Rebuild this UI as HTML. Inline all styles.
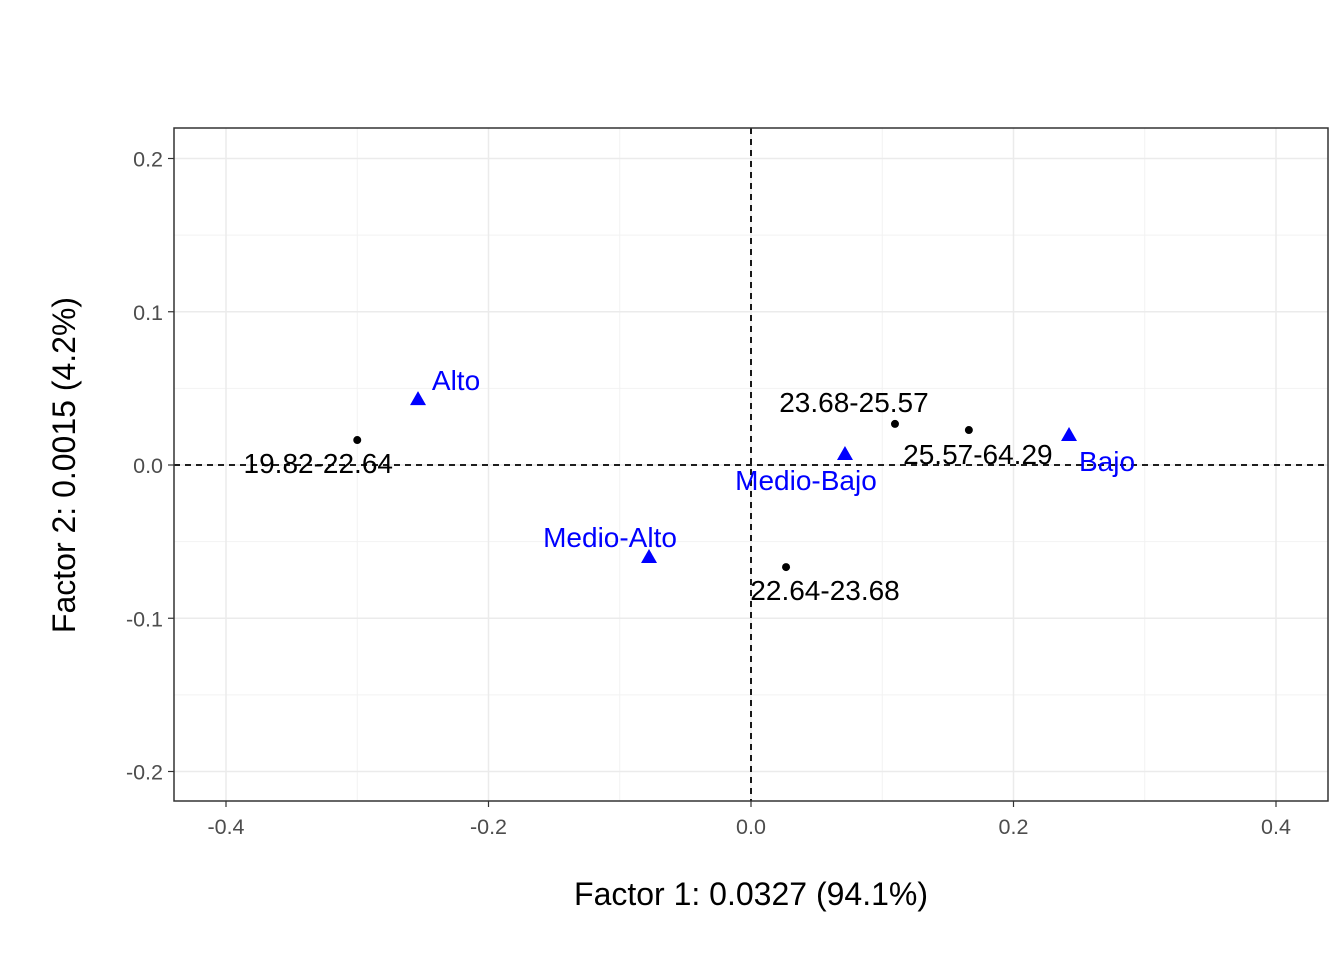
<!DOCTYPE html>
<html><head><meta charset="utf-8"><style>
html,body{margin:0;padding:0;background:#fff;}
svg{display:block;font-family:"Liberation Sans",Arial,sans-serif;}
</style></head><body>
<svg id="chart" width="1344" height="960"></svg>
<script>
const rowLabels=["19.82-22.64","23.68-25.57","25.57-64.29","22.64-23.68"];
const rowX=[-0.300,0.1097,0.166,0.0267];
const rowY=[0.0163,0.0268,0.0228,-0.0666];
const colLabels=["Alto","Medio-Bajo","Bajo","Medio-Alto"];
const colX=[-0.2537,0.0716,0.2423,-0.0777];
const colY=[0.043,0.0072,0.0196,-0.060];
const xTicks=[-0.4,-0.2,0.0,0.2,0.4];
const yTicks=[-0.2,-0.1,0.0,0.1,0.2];
const xTickLabels=["-0.4","-0.2","0.0","0.2","0.4"];
const yTickLabels=["-0.2","-0.1","0.0","0.1","0.2"];

const NS="http://www.w3.org/2000/svg";
const svg=document.getElementById('chart');
const L=174,R=1328,T=128,B=801;
const sx=v=>751+v*1312.5;
const sy=v=>465-v*1532.5;
function el(tag,attrs,parent){const e=document.createElementNS(NS,tag);for(const k in attrs)e.setAttribute(k,attrs[k]);(parent||svg).appendChild(e);return e;}

const panel=el('rect',{x:L,y:T,width:R-L,height:B-T,fill:'#fff'});


[-0.3,-0.1,0.1,0.3].forEach(v=>{const g=el('line',{x1:sx(v),x2:sx(v),y1:T,y2:B,stroke:'#f2f2f2','stroke-width':1});

});
[-0.15,-0.05,0.05,0.15].forEach(v=>{const g=el('line',{x1:L,x2:R,y1:sy(v),y2:sy(v),stroke:'#f2f2f2','stroke-width':1});

});
xTicks.forEach((v,i)=>{
 const g=el('line',{x1:sx(v),x2:sx(v),y1:T,y2:B,stroke:'#ebebeb','stroke-width':1.5});
 
 
 el('line',{x1:sx(v),x2:sx(v),y1:B,y2:B+6,stroke:'#333','stroke-width':1.2});
 const t=el('text',{x:sx(v),y:B+33,'text-anchor':'middle','font-size':21.5,fill:'#4d4d4d'});t.textContent=xTickLabels[i];
 
 
});
yTicks.forEach((v,i)=>{
 const g=el('line',{x1:L,x2:R,y1:sy(v),y2:sy(v),stroke:'#ebebeb','stroke-width':1.5});
 
 
 el('line',{x1:L-6,x2:L,y1:sy(v),y2:sy(v),stroke:'#333','stroke-width':1.2});
 const t=el('text',{x:L-11,y:sy(v)+8,'text-anchor':'end','font-size':21.5,fill:'#4d4d4d'});t.textContent=yTickLabels[i];
 
 
});
const h=el('line',{x1:L,x2:R,y1:sy(0),y2:sy(0),stroke:'#000','stroke-width':1.8,'stroke-dasharray':'6,5'});


const v0=el('line',{x1:sx(0),x2:sx(0),y1:T,y2:B,stroke:'#000','stroke-width':1.8,'stroke-dasharray':'6,5'});



const rowOff=[[-39,24],[-41,-21],[9,25],[39,24]];
rowLabels.forEach((lab,i)=>{
 const c=el('circle',{cx:sx(rowX[i]),cy:sy(rowY[i]),r:4,fill:'#000'});
 
 
 const t=el('text',{x:sx(rowX[i])+rowOff[i][0],y:sy(rowY[i])+rowOff[i][1]+9,'text-anchor':'middle','font-size':28,fill:'#000'});t.textContent=lab;
 
 
});
const colOff=[[38,-18],[-39,27],[38,27],[-39,-19]];
colLabels.forEach((lab,i)=>{
 const x=sx(colX[i]),y=sy(colY[i]);
 const p=el('polygon',{points:`${x},${y-8} ${x-8},${y+6} ${x+8},${y+6}`,fill:'#0000ff'});
 
 
 const t=el('text',{x:x+colOff[i][0],y:y+colOff[i][1]+9,'text-anchor':'middle','font-size':28,fill:'#0000ff'});t.textContent=lab;
 
 
});
const border=el('rect',{x:L,y:T,width:R-L,height:B-T,fill:'none',stroke:'#333','stroke-width':1.5});


const xt=el('text',{x:751,y:905,'text-anchor':'middle','font-size':32,fill:'#000'});xt.textContent='Factor 1: 0.0327 (94.1%)';


const yt=el('text',{x:0,y:0,'text-anchor':'middle','font-size':32,fill:'#000',transform:'translate(75,465) rotate(-90)'});yt.textContent='Factor 2: 0.0015 (4.2%)';


</script>
</body></html>
